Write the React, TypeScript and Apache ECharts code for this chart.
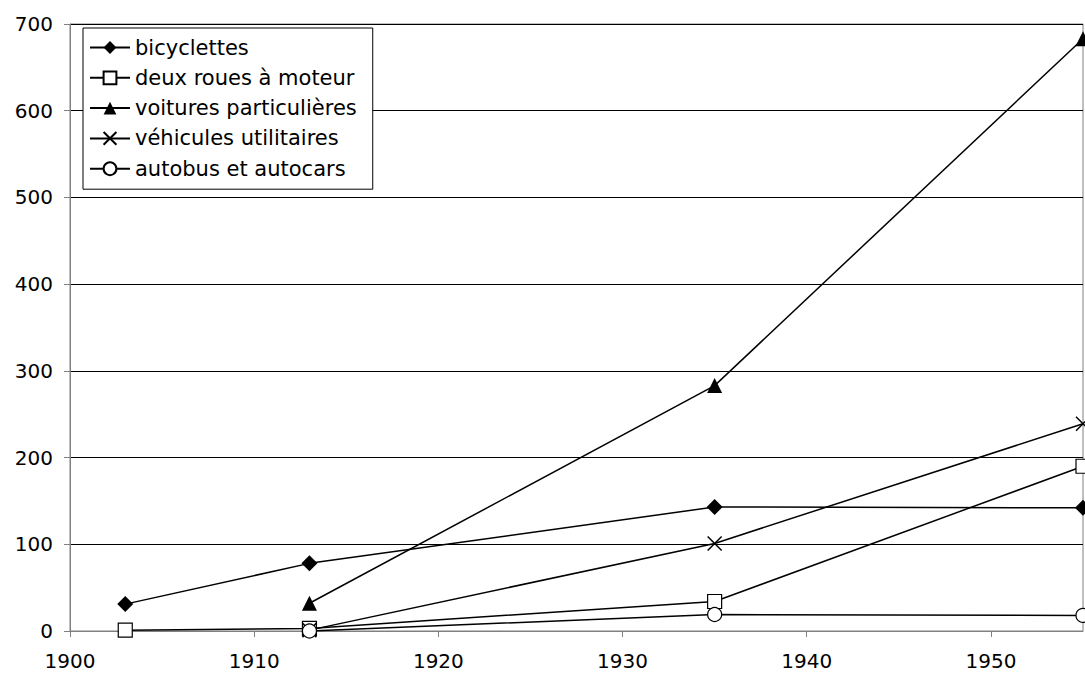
import React, { useEffect, useRef } from "react";
import * as echarts from "echarts";

const seriesNames = [
  "bicyclettes",
  "deux roues à moteur",
  "voitures particulières",
  "véhicules utilitaires",
  "autobus et autocars",
];
const bicyclettes: [number, number][] = [[1903, 31], [1913, 78], [1935, 143], [1955, 142]];
const deuxRoues: [number, number][] = [[1903, 1], [1913, 3], [1935, 34], [1955, 190]];
const voitures: [number, number][] = [[1913, 32], [1935, 283], [1955, 683]];
const utilitaires: [number, number][] = [[1913, 1], [1935, 101], [1955, 239]];
const autobus: [number, number][] = [[1913, 0], [1935, 19], [1955, 18]];

const FONT = "DejaVu Sans";

export default function App() {
  const ref = useRef<HTMLDivElement>(null);
  useEffect(() => {
    if (!ref.current) return;
    const chart = echarts.init(ref.current, null, { renderer: "svg" });
    const mk = (
      name: string,
      data: [number, number][],
      symbol: string,
      size: number,
      fill: string,
      border: string,
      bw: number
    ) => ({
      name,
      type: "line",
      data,
      symbol,
      symbolSize: size,
      showAllSymbol: true,
      clip: false,
      lineStyle: { color: "#000", width: 1.5 },
      itemStyle: { color: fill, borderColor: border, borderWidth: bw },
      emphasis: { disabled: true },
    });
    chart.setOption({
      animation: false,
      backgroundColor: "#fff",
      grid: {
        left: 70,
        right: 2,
        top: 24,
        bottom: 46,
        show: true,
        borderColor: "#808080",
        borderWidth: 1,
      },
      legend: {
        show: true,
        orient: "vertical",
        left: 83,
        top: 28,
        data: seriesNames,
        backgroundColor: "#fff",
        borderColor: "#000",
        borderWidth: 1,
        padding: [9, 16, 10, 6],
        itemGap: 9.3,
        itemWidth: 40,
        itemHeight: 16,
        textStyle: { fontFamily: FONT, fontSize: 21, color: "#000" },
        z: 10,
      },
      xAxis: {
        type: "value",
        min: 1900,
        max: 1955,
        interval: 10,
        axisLine: { show: true, lineStyle: { color: "#808080", width: 1 } },
        axisTick: { show: true, length: 6, lineStyle: { color: "#808080" } },
        axisLabel: {
          fontFamily: FONT,
          fontSize: 20,
          color: "#000",
          margin: 20,
          showMaxLabel: false,
          formatter: (v: number) => String(v),
        },
        splitLine: { show: false },
      },
      yAxis: {
        type: "value",
        min: 0,
        max: 700,
        interval: 100,
        axisLine: { show: true, lineStyle: { color: "#808080", width: 1 } },
        axisTick: { show: true, length: 6, lineStyle: { color: "#808080" } },
        axisLabel: { fontFamily: FONT, fontSize: 20, color: "#000", margin: 17 },
        splitLine: { show: true, lineStyle: { color: "#000", width: 1 } },
      },
      series: [
        mk(seriesNames[0], bicyclettes, "diamond", 16, "#000", "#000", 0),
        mk(seriesNames[1], deuxRoues, "rect", 14, "#fff", "#000", 1.2),
        mk(seriesNames[2], voitures, "triangle", 15, "#000", "#000", 0),
        mk(seriesNames[3], utilitaires, "path://M0,0L10,10M10,0L0,10", 14, "#000", "#000", 1.5),
        mk(seriesNames[4], autobus, "circle", 14, "#fff", "#000", 1.2),
      ],
    });
    return () => chart.dispose();
  }, []);
  return (
    <div
      ref={ref}
      style={{ position: "fixed", left: 0, top: 0, width: 1085, height: 677 }}
    />
  );
}
